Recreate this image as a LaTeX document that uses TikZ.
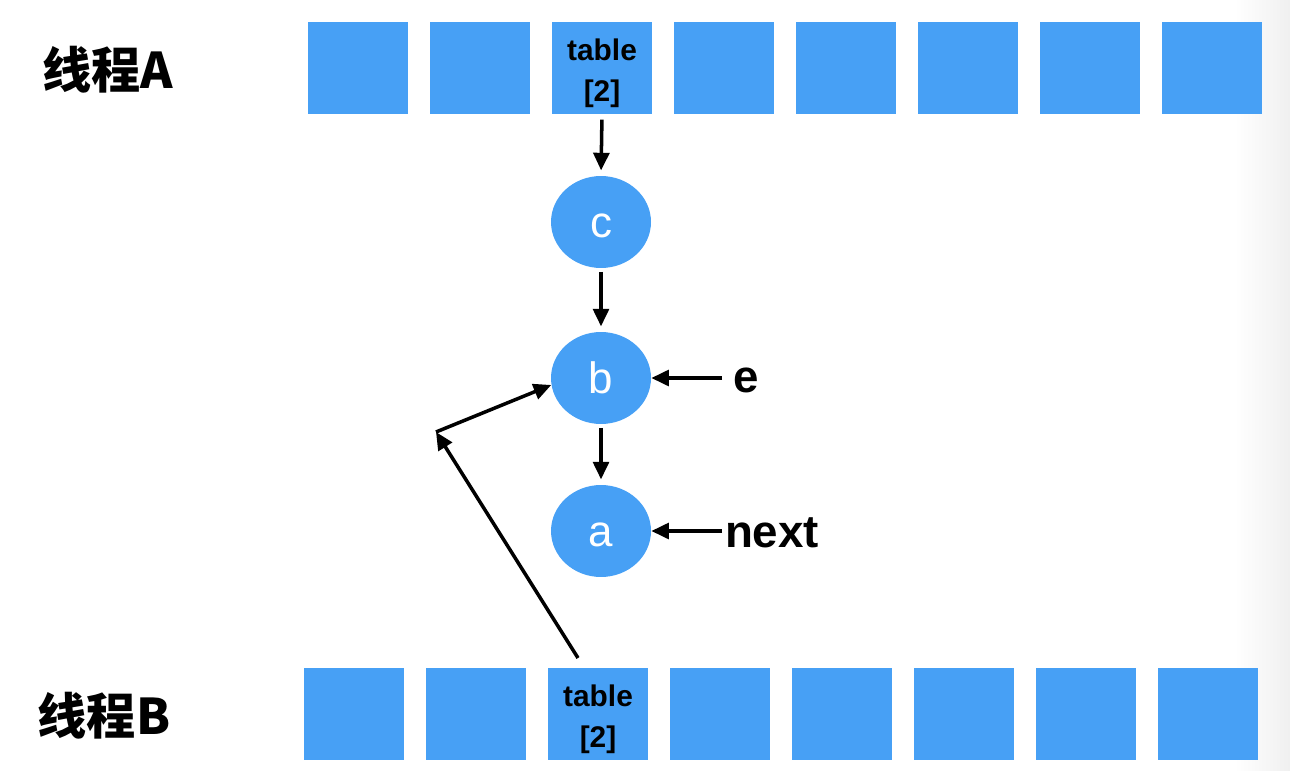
\documentclass[tikz,border=0pt]{standalone}
\usepackage{fontspec}
\setmainfont{Liberation Sans}
\newfontfamily\cjk{Noto Sans CJK SC}
\usetikzlibrary{arrows.meta,shapes.geometric}
\definecolor{cellblue}{RGB}{71,160,245}
\begin{document}
\begin{tikzpicture}[x=0.02cm,y=-0.02cm,
  cell/.style={fill=cellblue, minimum width=2cm, minimum height=1.84cm, inner sep=0pt},
  celltext/.style={align=center, inner sep=0pt, font=\bfseries\fontsize{17}{23.5}\selectfont},
  circ/.style={ellipse, fill=cellblue, minimum width=2cm, minimum height=1.84cm, inner sep=0pt,
               text=white, text height=17.6pt, text depth=0pt, font=\fontsize{25}{28}\selectfont},
  arr/.style={line width=2pt, -{Triangle[length=10pt,width=9pt]}},
  lab/.style={font=\bfseries\fontsize{26}{30}\selectfont, inner sep=0pt},
  thr/.style={font=\cjk\bfseries\fontsize{28}{32}\selectfont, inner sep=0pt}]
\useasboundingbox (0,0) rectangle (1290,770);
\shade[left color=white, right color=black!6, draw=none] (1235,0) rectangle (1290,770);

% thread labels
\node[thr] (lA) at (108,70) {线程A};
\node[thr] (lB) at (104,716) {线程B};

% top row
\foreach \i in {0,1,3,4,5,6,7} {
  \node[cell] (a\i) at ({358+122*\i},68) {};
}
\node[cell] (tA) at (602,68) {};
\node[celltext] (tAt) at (602,73) {table\\{[2]}};

% bottom row
\foreach \i in {0,1,3,4,5,6,7} {
  \node[cell] (b\i) at ({354+122*\i},714) {};
}
\node[cell] (tB) at (598,714) {};
\node[celltext] (tBt) at (598,719) {table\\{[2]}};

% list nodes
\node[circ] (c) at (601,222) {c};
\node[circ] (b) at (601,378) {b};
\node[circ] (a) at (601,531) {a};

\node[lab] (e) at (746,380) {e};
\node[lab] (nx) at (772,533) {next};

\coordinate (s) at (578,658);
\coordinate (k) at (436,432);
\coordinate (eS) at (722,378);
\coordinate (nS) at (722,531);

\draw[arr, shorten <=3pt, shorten >=3pt] (tA.south) -- (c.north);
\draw[arr, shorten <=2pt, shorten >=3pt] (c.south) -- (b.north);
\draw[arr, shorten <=2pt, shorten >=3pt] (b.south) -- (a.north);
\draw[arr] (eS) -- (eS -| b.east);
\draw[arr] (nS) -- (nS -| a.east);
\draw[arr] (s) -- (k);
\draw[arr] (k) -- (b.188);
\end{tikzpicture}
\end{document}
